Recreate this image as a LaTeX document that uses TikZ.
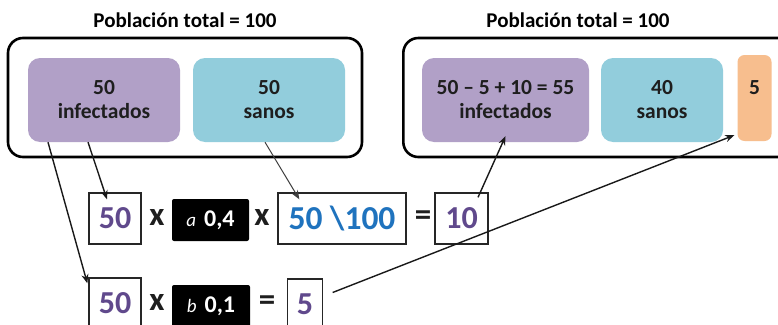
\documentclass[tikz,border=0pt]{standalone}
\usepackage{fontspec}
\setmainfont{Carlito}
\usetikzlibrary{arrows.meta}
\definecolor{pfill}{RGB}{177,160,199}
\definecolor{bfill}{RGB}{146,205,220}
\definecolor{ofill}{RGB}{247,190,142}
\definecolor{ptext}{RGB}{96,73,140}
\definecolor{btext}{RGB}{31,115,190}
\definecolor{tdark}{RGB}{30,30,30}
\tikzset{
  outerbox/.style={draw=black, line width=2.6pt, rounded corners=15pt, inner sep=0pt},
  fillbox/.style={rounded corners=12pt, inner sep=0pt, align=center, font=\fontsize{21.5}{24}\selectfont\bfseries, text=tdark},
  numbox/.style={draw=black!85, line width=1.3pt, inner sep=0pt, font=\fontsize{32}{36}\selectfont\bfseries, text=ptext},
  blk/.style={fill=black, rounded corners=2pt, inner sep=0pt, text=white, font=\fontsize{24}{26}\selectfont\bfseries},
  op/.style={inner sep=0pt, font=\fontsize{33}{36}\selectfont\bfseries, text=tdark},
  ttl/.style={inner sep=0pt, font=\fontsize{21}{24}\selectfont\bfseries, text=black},
  arr/.style={-{Stealth[length=9pt,width=7pt]}, line width=1.4pt, black!90},
}
\begin{document}
\begin{tikzpicture}[x=1pt,y=-1pt]
\useasboundingbox (0,0) rectangle (778,324);
\clip (0,0) rectangle (778,324);
\fill[white] (0,0) rectangle (778,324);
% titles
\node[ttl] (t1) at (185,20) {Población total = 100};
\node[ttl] (t2) at (578,20) {Población total = 100};
% outer boxes
\node[outerbox, minimum width=354pt, minimum height=119pt] (oL) at (185,97.5) {};
\node[outerbox, minimum width=390pt, minimum height=119pt, anchor=west] (oR) at (402,97.5) {};
% left fill boxes
\node[fillbox, fill=pfill, minimum width=152pt, minimum height=84pt] (pL) at (104,100) {50\\infectados};
\node[fillbox, fill=bfill, minimum width=152pt, minimum height=84pt] (bL) at (269,100) {50\\sanos};
% right fill boxes
\node[fillbox, fill=pfill, minimum width=167pt, minimum height=84pt] (pR) at (505.5,100) {50 – 5 + 10 = 55\\infectados};
\node[fillbox, fill=bfill, minimum width=122pt, minimum height=84pt] (bR) at (662,100) {40\\sanos};
\node[fillbox, fill=ofill, rounded corners=7pt, minimum width=34pt, minimum height=86pt] (oR5) at (754.5,98) {};
\node[fillbox] (o5t) at (754.5,88) {5};
% row 1
\node[numbox, minimum width=52pt, minimum height=51pt] (n50a) at (115,218.5) {50};
\node[op] (x1) at (157,217) {x};
\node[blk, minimum width=77pt, minimum height=42pt] (ka) at (210.5,220) {{\mdseries\itshape\fontsize{19}{22}\selectfont a}\hspace{8pt}0,4};
\node[op] (x2) at (262,217) {x};
\node[numbox, text=btext, font=\fontsize{33.5}{36}\selectfont\bfseries, minimum width=128pt, minimum height=51pt] (frac) at (342,218.5) {50 \textbackslash 100};
\node[op] (eq1) at (423,218.5) {=};
\node[numbox, minimum width=53pt, minimum height=51pt] (n10) at (461.5,218.5) {10};
% row 2
\node[numbox, minimum width=52pt, minimum height=51pt] (n50b) at (115,303.5) {50};
\node[op] (x3) at (157,302) {x};
\node[blk, minimum width=78pt, minimum height=42pt] (kb) at (211,306) {{\mdseries\itshape\fontsize{19}{22}\selectfont b}\hspace{8pt}0,1};
\node[op] (eq2) at (267,303.5) {=};
\node[numbox, minimum width=35pt, minimum height=51pt] (n5) at (305,304.5) {5};
% arrows
\draw[arr] ([xshift=-56pt]pL.south) -- ([xshift=-1pt,yshift=-6pt]n50b.north west);
\draw[arr] ([xshift=-16pt]pL.south) -- ([xshift=-8pt,yshift=-7pt]n50a.north);
\draw[arr, line width=1pt, black!75] ([xshift=-4pt]bL.south) -- ([xshift=22pt,yshift=-7pt]frac.north west);
\draw[arr] ([xshift=16.5pt,yshift=-5pt]n10.north) -- ([yshift=6pt]pR.south);
\draw[arr] ([xshift=9.5pt,yshift=12pt]n5.east) -- ([xshift=-3pt,yshift=6pt]oR5.south west);
\end{tikzpicture}
\end{document}
